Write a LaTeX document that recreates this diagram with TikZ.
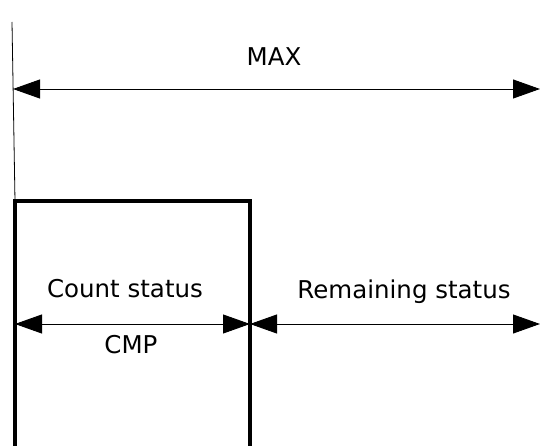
\documentclass[tikz,border=0pt]{standalone}
\usepackage{fontspec}
\setmainfont{DejaVu Sans}
\usetikzlibrary{arrows.meta}
\usetikzlibrary{positioning}

\begin{document}
\begin{tikzpicture}[x=1pt,y=-1pt,
        dim/.style={{Triangle[length=27pt,width=19pt]}-{Triangle[length=27pt,width=19pt]},line width=0.9pt},
        wall/.style={line width=4.5pt,line cap=rect},
        lbl/.style={inner sep=0pt,anchor=base,font=\fontsize{24.5}{28}\selectfont}]
    \useasboundingbox (0,0) rectangle (540,446);
    % outline of the counter
    \coordinate (top) at (12,22);
    \coordinate (bl) at (15,446);
    \coordinate (tl) at (15,201);
    \coordinate (tr) at (250,201);
    \coordinate (br) at (250,446);
    \draw[line width=0.8pt] (top) -- (tl);
    \draw[wall] (bl) -- (tl) -- (tr) -- (br);
    % dimension lines
    \coordinate (maxl) at (13,89);
    \coordinate (maxr) at (540,89);
    \coordinate (cmpl) at (15,324);
    \coordinate (cmpr) at (250,324);
    \coordinate (reml) at (250,324);
    \coordinate (remr) at (540,324);
    \draw[dim] (maxl) -- (maxr);
    \draw[dim] (cmpl) -- (cmpr);
    \draw[dim] (reml) -- (remr);
    % labels
    \node[lbl] (max) at (274,66) {MAX};
    \node[lbl] (count) at (125,297) {Count status};
    \node[lbl] (remain) at (404,298) {Remaining status};
    \node[lbl] (cmp) at (131,353) {CMP};
\end{tikzpicture}
\end{document}
